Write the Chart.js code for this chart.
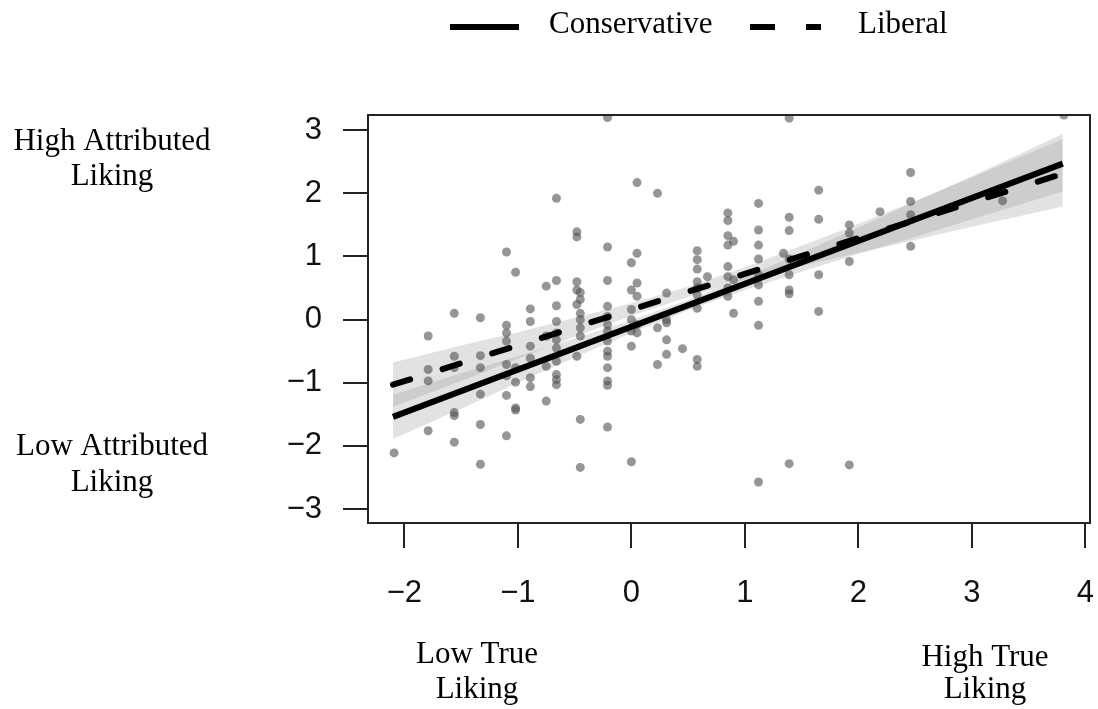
<!DOCTYPE html>
<html>
<head>
<meta charset="utf-8">
<script src="https://cdn.jsdelivr.net/npm/chart.js@4.4.0/dist/chart.umd.min.js"></script>
<style>
  html, body { margin: 0; padding: 0; background: #fff; }
  #chart { display: block; }
</style>
</head>
<body>
<canvas id="chart" width="1098" height="709"></canvas>
<script>
// tick labels
const xTicks = [-2, -1, 0, 1, 2, 3, 4];
const yTicks = [-3, -2, -1, 0, 1, 2, 3];

// scatter points: true liking (x) vs attributed liking (y)
const pointX = [
  -2.09,
  -1.79, -1.79, -1.79, -1.79,
  -1.56, -1.56, -1.56, -1.56, -1.56, -1.56,
  -1.33, -1.33, -1.33, -1.33, -1.33, -1.33,
  -1.10, -1.10, -1.10, -1.10, -1.10, -1.10, -1.10, -1.10,
  -1.02, -1.02, -1.02, -1.02, -1.02,
  -0.89, -0.89, -0.89, -0.89, -0.89, -0.89,
  -0.75, -0.75, -0.75, -0.75,
  -0.66, -0.66, -0.66, -0.66, -0.66, -0.66, -0.66, -0.66, -0.66, -0.66, -0.66,
  -0.48, -0.48, -0.48, -0.48, -0.48, -0.48,
  -0.45, -0.45, -0.45, -0.45, -0.45, -0.45, -0.45, -0.45,
  -0.21, -0.21, -0.21, -0.21, -0.21, -0.21, -0.21, -0.21, -0.21, -0.21, -0.21, -0.21, -0.21, -0.21,
  0.00, 0.00, 0.00, 0.00, 0.00, 0.00, 0.00,
  0.05, 0.05, 0.05, 0.05, 0.05, 0.05,
  0.23, 0.23, 0.23,
  0.31, 0.31, 0.31, 0.31, 0.31,
  0.45,
  0.58, 0.58, 0.58, 0.58, 0.58, 0.58, 0.58, 0.58, 0.58,
  0.67,
  0.85, 0.85, 0.85, 0.85, 0.85, 0.85, 0.85, 0.85,
  0.90, 0.90, 0.90,
  1.12, 1.12, 1.12, 1.12, 1.12, 1.12, 1.12, 1.12, 1.12,
  1.34,
  1.39, 1.39, 1.39, 1.39, 1.39, 1.39, 1.39, 1.39,
  1.65, 1.65, 1.65, 1.65,
  1.92, 1.92, 1.92, 1.92,
  2.19,
  2.46, 2.46, 2.46, 2.46,
  3.27,
  3.81
];
const pointY = [
  -2.11,
  -0.26, -0.79, -0.97, -1.76,
  0.10, -0.58, -0.76, -1.47, -1.52, -1.94,
  0.03, -0.57, -0.76, -1.18, -1.66, -2.29,
  1.07, -0.09, -0.21, -0.34, -0.71, -0.89, -1.20, -1.84,
  0.75, -0.76, -0.99, -1.40, -1.43,
  0.17, -0.03, -0.42, -0.61, -0.92, -1.06,
  0.53, -0.26, -0.74, -1.29,
  1.92, 0.62, 0.22, -0.03, -0.21, -0.32, -0.45, -0.66, -0.87, -0.95, -1.03,
  1.39, 1.31, 0.60, 0.47, 0.24, -0.58,
  0.43, 0.32, 0.10, 0.00, -0.13, -0.26, -1.58, -2.34,
  3.20, 1.15, 0.62, 0.21, 0.05, -0.08, -0.18, -0.34, -0.50, -0.58, -0.76, -0.97, -1.04, -1.70,
  0.90, 0.47, 0.16, 0.00, -0.18, -0.42, -2.25,
  2.17, 1.05, 0.58, 0.37, -0.08, -0.21,
  2.00, -0.13, -0.71,
  0.42, 0.00, -0.05, -0.32, -0.55,
  -0.46,
  1.09, 0.95, 0.80, 0.60, 0.50, 0.39, 0.18, -0.63, -0.74,
  0.68,
  1.69, 1.57, 1.33, 1.18, 0.84, 0.68, 0.50, 0.37,
  1.24, 0.63, 0.10,
  1.84, 1.42, 1.18, 0.96, 0.71, 0.55, 0.29, -0.09, -2.57,
  1.05,
  3.19, 1.62, 1.41, 0.96, 0.71, 0.47, 0.41, -2.28,
  2.05, 1.59, 0.71, 0.13,
  1.50, 1.37, 0.92, -2.30,
  1.71,
  2.33, 1.87, 1.66, 1.16,
  1.88,
  3.24
];

// fitted lines
const lineX = [-2.1, 3.8];
const conservativeLine = [-1.54, 2.47];
const liberalLine = [-1.03, 2.31];

// confidence bands
const bandX = [-2.1, -1.5, -1, -0.5, 0, 0.5, 1, 1.5, 2, 2.5, 3, 3.8];
const conservativeUpper = [-1.19, -0.85, -0.58, -0.30, -0.01, 0.31, 0.67, 1.06, 1.46, 1.87, 2.27, 2.94];
const conservativeLower = [-1.89, -1.41, -1.00, -0.60, -0.21, 0.15, 0.47, 0.76, 1.04, 1.31, 1.59, 2.03];
const liberalUpper = [-0.68, -0.41, -0.20, 0.03, 0.26, 0.52, 0.83, 1.17, 1.52, 1.88, 2.25, 2.86];
const liberalLower = [-1.38, -0.97, -0.62, -0.27, 0.06, 0.36, 0.63, 0.85, 1.06, 1.26, 1.47, 1.79];

const toXY = (xs, ys) => xs.map((x, i) => ({ x: x, y: ys[i] }));
const minus = v => (v < 0 ? '\u2212' + Math.abs(v) : String(v));

const bandColor = 'rgba(150,150,150,0.28)';
const tickFont = { family: '"Liberation Sans", Arial, sans-serif', size: 31 };
const serif = '31px "Liberation Serif", "Times New Roman", serif';

const extras = {
  id: 'extras',
  afterDraw(chart) {
    const ctx = chart.ctx;
    const a = chart.chartArea;
    ctx.save();
    // full box round the plot
    ctx.strokeStyle = '#222';
    ctx.lineWidth = 2;
    ctx.strokeRect(a.left, a.top, a.right - a.left, a.bottom - a.top);

    // legend
    ctx.strokeStyle = '#000';
    ctx.lineWidth = 6;
    ctx.beginPath();
    ctx.moveTo(450, 27);
    ctx.lineTo(519, 27);
    ctx.stroke();
    ctx.setLineDash([25, 31]);
    ctx.beginPath();
    ctx.moveTo(750, 27);
    ctx.lineTo(821, 27);
    ctx.stroke();
    ctx.setLineDash([]);

    ctx.fillStyle = '#000';
    ctx.font = serif;
    ctx.textBaseline = 'middle';
    ctx.textAlign = 'left';
    ctx.fillText('Conservative', 549, 25);
    ctx.fillText('Liberal', 858, 25);

    // side and bottom descriptions
    ctx.textAlign = 'center';
    ctx.fillText('High Attributed', 112, 142);
    ctx.fillText('Liking', 112, 177);
    ctx.fillText('Low Attributed', 112, 447);
    ctx.fillText('Liking', 112, 483);
    ctx.fillText('Low True', 477, 655);
    ctx.fillText('Liking', 477, 690);
    ctx.fillText('High True', 985, 658);
    ctx.fillText('Liking', 985, 690);
    ctx.restore();
  }
};

new Chart(document.getElementById('chart'), {
  type: 'scatter',
  data: {
    datasets: [
      {
        label: 'Conservative',
        data: toXY(lineX, conservativeLine),
        showLine: true,
        borderColor: '#000',
        borderWidth: 6,
        pointRadius: 0
      },
      {
        label: 'Liberal',
        data: toXY(lineX, liberalLine),
        showLine: true,
        borderColor: '#000',
        borderWidth: 6,
        borderDash: [18, 34],
        borderCapStyle: 'round',
        pointRadius: 0
      },
      {
        label: 'points',
        data: toXY(pointX, pointY),
        pointRadius: 4.5,
        pointBackgroundColor: 'rgba(80,80,80,0.6)',
        pointBorderWidth: 0
      },
      {
        label: 'cons upper',
        data: toXY(bandX, conservativeUpper),
        showLine: true,
        borderWidth: 0,
        pointRadius: 0,
        backgroundColor: bandColor,
        fill: '+1'
      },
      {
        label: 'cons lower',
        data: toXY(bandX, conservativeLower),
        showLine: true,
        borderWidth: 0,
        pointRadius: 0,
        fill: false
      },
      {
        label: 'lib upper',
        data: toXY(bandX, liberalUpper),
        showLine: true,
        borderWidth: 0,
        pointRadius: 0,
        backgroundColor: bandColor,
        fill: '+1'
      },
      {
        label: 'lib lower',
        data: toXY(bandX, liberalLower),
        showLine: true,
        borderWidth: 0,
        pointRadius: 0,
        fill: false
      }
    ]
  },
  options: {
    responsive: false,
    animation: false,
    devicePixelRatio: 1,
    layout: { padding: { top: 115, right: 8, left: 0, bottom: 0 } },
    plugins: {
      legend: { display: false },
      tooltip: { enabled: false }
    },
    scales: {
      x: {
        type: 'linear',
        min: -2.32,
        max: 4.04,
        afterBuildTicks: s => { s.ticks = xTicks.map(v => ({ value: v })); },
        afterFit: s => { s.height = 186; s.paddingLeft = 0; s.paddingRight = 0; },
        border: { display: false },
        grid: { drawOnChartArea: false, tickLength: 25, tickColor: '#222', lineWidth: 2 },
        ticks: { font: tickFont, color: '#111', padding: 27, maxRotation: 0, callback: minus }
      },
      y: {
        type: 'linear',
        min: -3.22,
        max: 3.24,
        afterBuildTicks: s => { s.ticks = yTicks.map(v => ({ value: v })); },
        afterFit: s => { s.width = 368; s.paddingTop = 0; s.paddingBottom = 0; },
        border: { display: false },
        grid: { drawOnChartArea: false, tickLength: 25, tickColor: '#222', lineWidth: 2 },
        ticks: { font: tickFont, color: '#111', padding: 21, callback: minus }
      }
    }
  },
  plugins: [extras]
});
</script>
</body>
</html>
